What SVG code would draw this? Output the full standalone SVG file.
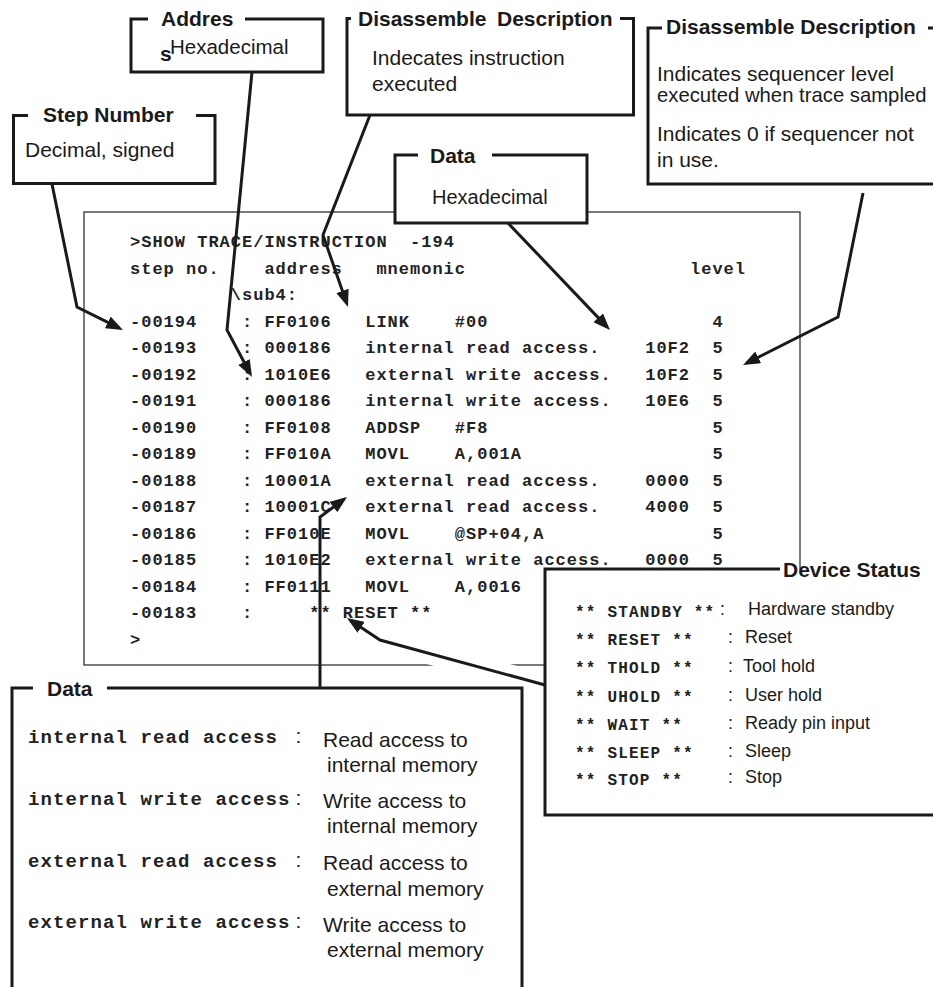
<svg xmlns="http://www.w3.org/2000/svg" width="933" height="987" viewBox="0 0 933 987">
<style>
.bg{fill:#fff;stroke:none}
.box{fill:none;stroke:#1a1a1a;stroke-width:3;stroke-linejoin:miter;stroke-linecap:butt}
.ttl{font-family:"Liberation Sans",Arial,sans-serif;font-weight:bold;font-size:21px;fill:#1a1a1a}
.txt{font-family:"Liberation Sans",Arial,sans-serif;font-size:21px;fill:#1a1a1a}
.dtxt{font-family:"Liberation Sans",Arial,sans-serif;font-size:18px;fill:#1a1a1a}
.mono{font-family:"Liberation Mono","Courier New",monospace;font-weight:bold;font-size:17px;letter-spacing:1px;fill:#222}
.mono2{font-family:"Liberation Mono","Courier New",monospace;font-weight:bold;font-size:16px;letter-spacing:1.2px;fill:#222}
.mono3{font-family:"Liberation Mono","Courier New",monospace;font-weight:bold;font-size:19px;letter-spacing:1.1px;fill:#222}
.conn{fill:none;stroke:#1a1a1a;stroke-width:3;stroke-linejoin:miter;marker-end:url(#ah)}
</style>
<defs>
<marker id="ah" viewBox="0 0 17 13" refX="13" refY="6.5" markerWidth="17" markerHeight="13" markerUnits="userSpaceOnUse" orient="auto">
<path d="M0,0 L17,6.5 L0,13 z" fill="#1a1a1a"/>
</marker>
</defs>
<rect x="0" y="0" width="933" height="987" fill="#fff"/>

<g id="trace">
<rect x="84" y="212" width="716" height="453" fill="none" stroke="#333" stroke-width="1.3"/>
<g class="mono">
<text x="130" y="247" xml:space="preserve">&gt;SHOW TRACE/INSTRUCTION  -194</text>
<text y="273.5"><tspan x="130">step no.</tspan><tspan x="264.4">address</tspan><tspan x="376.4">mnemonic</tspan><tspan x="690">level</tspan></text>
<text y="300"><tspan x="230.8">\sub4:</tspan></text>
<text y="326.5"><tspan x="130">-00194</tspan><tspan x="242">:</tspan><tspan x="264.4">FF0106</tspan><tspan x="365.2">LINK</tspan><tspan x="454.8">#00</tspan><tspan x="712.4">4</tspan></text>
<text y="353"><tspan x="130">-00193</tspan><tspan x="242">:</tspan><tspan x="264.4">000186</tspan><tspan x="365.2">internal read access.</tspan><tspan x="645.2">10F2</tspan><tspan x="712.4">5</tspan></text>
<text y="379.5"><tspan x="130">-00192</tspan><tspan x="242">:</tspan><tspan x="264.4">1010E6</tspan><tspan x="365.2">external write access.</tspan><tspan x="645.2">10F2</tspan><tspan x="712.4">5</tspan></text>
<text y="406"><tspan x="130">-00191</tspan><tspan x="242">:</tspan><tspan x="264.4">000186</tspan><tspan x="365.2">internal write access.</tspan><tspan x="645.2">10E6</tspan><tspan x="712.4">5</tspan></text>
<text y="432.5"><tspan x="130">-00190</tspan><tspan x="242">:</tspan><tspan x="264.4">FF0108</tspan><tspan x="365.2">ADDSP</tspan><tspan x="454.8">#F8</tspan><tspan x="712.4">5</tspan></text>
<text y="459"><tspan x="130">-00189</tspan><tspan x="242">:</tspan><tspan x="264.4">FF010A</tspan><tspan x="365.2">MOVL</tspan><tspan x="454.8">A,001A</tspan><tspan x="712.4">5</tspan></text>
<text y="485.5"><tspan x="130">-00188</tspan><tspan x="242">:</tspan><tspan x="264.4">10001A</tspan><tspan x="365.2">external read access.</tspan><tspan x="645.2">0000</tspan><tspan x="712.4">5</tspan></text>
<text y="512"><tspan x="130">-00187</tspan><tspan x="242">:</tspan><tspan x="264.4">10001C</tspan><tspan x="365.2">external read access.</tspan><tspan x="645.2">4000</tspan><tspan x="712.4">5</tspan></text>
<text y="538.5"><tspan x="130">-00186</tspan><tspan x="242">:</tspan><tspan x="264.4">FF010E</tspan><tspan x="365.2">MOVL</tspan><tspan x="454.8">@SP+04,A</tspan><tspan x="712.4">5</tspan></text>
<text y="565"><tspan x="130">-00185</tspan><tspan x="242">:</tspan><tspan x="264.4">1010E2</tspan><tspan x="365.2">external write access.</tspan><tspan x="645.2">0000</tspan><tspan x="712.4">5</tspan></text>
<text y="591.5"><tspan x="130">-00184</tspan><tspan x="242">:</tspan><tspan x="264.4">FF0111</tspan><tspan x="365.2">MOVL</tspan><tspan x="454.8">A,0016</tspan></text>
<text y="618"><tspan x="130">-00183</tspan><tspan x="242">:</tspan><tspan x="309.2">** RESET **</tspan></text>
<text x="130" y="644.5">&gt;</text>
</g>
</g>

<line x1="545" y1="685" x2="380" y2="640" stroke="#fff" stroke-width="22"/>

<g id="addres">
<rect class="bg" x="131" y="19" width="192" height="53"/>
<path class="box" d="M148,19 H131 V72 H323 V19 H245"/>
<text class="ttl" x="161" y="26">Addres</text>
<text class="ttl" x="160" y="61">s</text>
<text class="txt" x="170" y="54" style="font-size:20.5px">Hexadecimal</text>
</g>

<g id="step-number">
<rect class="bg" x="13.5" y="115.5" width="201.5" height="68"/>
<path class="box" d="M28,115.5 H13.5 V183.5 H215 V115.5 H196"/>
<text class="ttl" x="43" y="122">Step Number</text>
<text class="txt" x="25" y="157">Decimal, signed</text>
</g>

<g id="disasm-instr">
<rect class="bg" x="347" y="18.5" width="286.5" height="96.5"/>
<path class="box" d="M351,18.5 H347 V115 H633.5 V18.5 H620"/>
<text class="ttl" y="26"><tspan x="358">Disassemble</tspan><tspan x="497">Description</tspan></text>
<text class="txt" x="372" y="65">Indecates instruction</text>
<text class="txt" x="372" y="91">executed</text>
</g>

<g id="data-hex">
<rect class="bg" x="395" y="155" width="192" height="68"/>
<path class="box" d="M418,155 H395 V223 H587 V155 H492"/>
<text class="ttl" x="430" y="163">Data</text>
<text class="txt" x="432" y="204" style="font-size:20px">Hexadecimal</text>
</g>

<g id="disasm-level">
<rect class="bg" x="648" y="28" width="292" height="156"/>
<path class="box" d="M662,28 H648 V184 H940 M928,28 H940"/>
<text class="ttl" x="666" y="34">Disassemble Description</text>
<text class="txt" x="657" y="81">Indicates sequencer level</text>
<text class="txt" x="657" y="102" style="font-size:20.3px">executed when trace sampled</text>
<text class="txt" x="657" y="141">Indicates 0 if sequencer not</text>
<text class="txt" x="657" y="167">in use.</text>
</g>

<g id="device-status">
<rect class="bg" x="545" y="569" width="395" height="246"/>
<path class="box" d="M780,569 H545 V815 H940"/>
<text class="ttl" x="783" y="577">Device Status</text>
<g class="mono2">
<text x="575" y="617">** STANDBY **</text>
<text x="575" y="645">** RESET **</text>
<text x="575" y="673">** THOLD **</text>
<text x="575" y="701.5">** UHOLD **</text>
<text x="575" y="730">** WAIT **</text>
<text x="575" y="758">** SLEEP **</text>
<text x="575" y="785">** STOP **</text>
</g>
<g class="dtxt">
<text x="720" y="615">:</text><text x="748" y="615">Hardware standby</text>
<text x="728" y="643">:</text><text x="745" y="643">Reset</text>
<text x="728" y="672">:</text><text x="743" y="672">Tool hold</text>
<text x="728" y="700.5">:</text><text x="745" y="700.5">User hold</text>
<text x="728" y="729">:</text><text x="745" y="729">Ready pin input</text>
<text x="728" y="756.5">:</text><text x="745" y="756.5">Sleep</text>
<text x="728" y="783">:</text><text x="745" y="783">Stop</text>
</g>
</g>

<g id="data-access">
<rect class="bg" x="12" y="688" width="510" height="307"/>
<path class="box" d="M33,688 H12 V995 M107,688 H522 V995"/>
<text class="ttl" x="47" y="696">Data</text>
<g class="mono3">
<text x="28" y="743">internal read access</text>
<text x="28" y="805">internal write access</text>
<text x="28" y="867">external read access</text>
<text x="28" y="928">external write access</text>
</g>
<g class="txt">
<text x="295.5" y="743">:</text>
<text x="323" y="747">Read access to</text>
<text x="327" y="772">internal memory</text>
<text x="295.5" y="805">:</text>
<text x="323" y="808">Write access to</text>
<text x="327" y="833">internal memory</text>
<text x="295.5" y="867">:</text>
<text x="323" y="870">Read access to</text>
<text x="327" y="896">external memory</text>
<text x="295.5" y="928">:</text>
<text x="323" y="932">Write access to</text>
<text x="327" y="957">external memory</text>
</g>
</g>

<g id="connectors">
<polyline class="conn" points="52,184 77,307 119.4,328.2"/>
<polyline class="conn" points="252,72 227,330 250.1,373.5"/>
<polyline class="conn" points="370,115 323,235 346.7,303.2"/>
<polyline class="conn" points="508,223 607.2,327.1"/>
<polyline class="conn" points="863,193 838,317 746.6,363.2"/>
<polyline class="conn" points="320,688 320,517 343.8,499.4"/>
<polyline class="conn" points="545,685 380,640 350.3,620.2"/>
</g>
</svg>
